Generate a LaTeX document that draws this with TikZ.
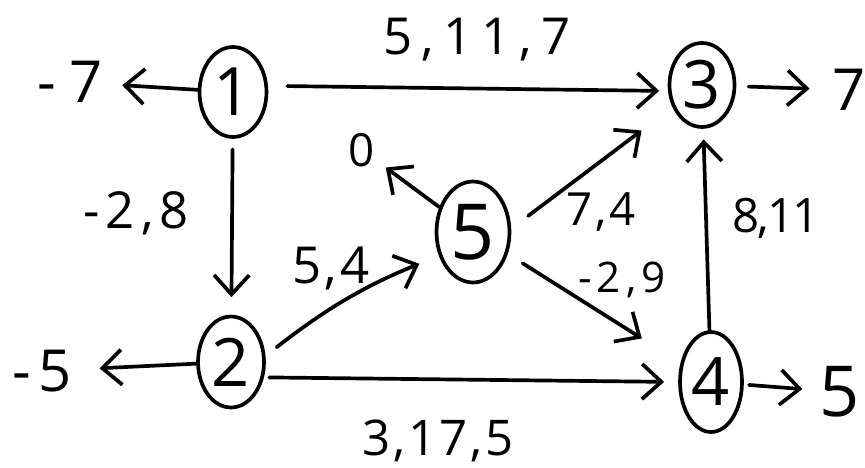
\documentclass[tikz,border=0pt]{standalone}
\usepackage{fontspec}
\setmainfont{Open Sans}
\newfontfamily\handA[LetterSpace=18]{Open Sans}
\newfontfamily\handB[LetterSpace=12]{Open Sans}
\newfontfamily\handC[LetterSpace=6]{Open Sans}
\newfontfamily\handD[LetterSpace=-4]{Open Sans}
\newfontfamily\handE[LetterSpace=24]{Open Sans}
\usetikzlibrary{arrows.meta,shapes.geometric}
\begin{document}
\begin{tikzpicture}[x=0.02cm,y=-0.02cm, line width=2.1pt,
  vtx/.style={ellipse, draw, inner sep=0pt, font=\fontsize{38}{40}\selectfont},
  lbl/.style={inner sep=1pt},
  arr/.style={-{Straight Barb[length=11pt,width=20pt]}, line cap=round}]
\fill[white] (0,0) rectangle (865,467);
\useasboundingbox (0,0) rectangle (865,467);

% vertices
\node[vtx, minimum width=1.34cm, minimum height=1.8cm] (n1) at (233,92) {1};
\node[vtx, minimum width=1.3cm, minimum height=1.68cm] (n3) at (702,85) {3};
\node[vtx, minimum width=1.46cm, minimum height=2.02cm, font=\fontsize{44}{46}\selectfont] (n5) at (473,232) {5};
\node[vtx, minimum width=1.32cm, minimum height=1.82cm] (n2) at (231,362) {2};
\node[vtx, minimum width=1.24cm, minimum height=2.0cm] (n4) at (711,382) {4};

% supplies / demands
\node[lbl, font=\handE\fontsize{33}{35}\selectfont] (s1) at (70,82) {-7};
\node[lbl, font=\fontsize{33}{35}\selectfont] (s3) at (849,90) {7};
\node[lbl, font=\fontsize{26}{28}\selectfont] (s5) at (362,150) {0};
\node[lbl, font=\handB\fontsize{33}{35}\selectfont] (s2) at (42,371) {-5};
\node[lbl, font=\fontsize{40}{42}\selectfont] (s4) at (840,392) {5};

% arcs
\draw[arr, shorten <=0pt, shorten >=9pt] (n1) -- (s1);
\draw[arr, shorten <=11pt, shorten >=5pt] (n1.10) -- (n3.190);
\draw[arr, shorten <=6pt, shorten >=10pt] (n1) -- (n2);
\draw[arr, shorten <=0pt, shorten >=14pt] (n2) -- (s2);
\draw[arr, shorten <=8pt, shorten >=12pt] (n2.10) to[bend left=8] (n5.215);
\draw[arr, shorten <=3pt, shorten >=8pt] (n2.-25) -- (n4.west);
\draw[arr, shorten <=0pt, shorten >=5pt] (n5) -- (s5);
\draw[arr, shorten <=12pt, shorten >=22pt] (n5.5) -- (n3);
\draw[arr, shorten <=10pt, shorten >=26pt] (n5) -- (n4);
\draw[arr, shorten <=0pt, shorten >=6pt] (n4) -- (n3);
\draw[arr, shorten <=7pt, shorten >=11pt] (n3) -- (s3);
\draw[arr, shorten <=3pt, shorten >=8pt] (n4) -- (s4);

% arc labels
\node[lbl, font=\handA\fontsize{29}{31}\selectfont] (l13) at (477,40) {5,11,7};
\node[lbl, font=\handB\fontsize{29}{31}\selectfont] (l12) at (136,213) {-2,8};
\node[lbl, font=\handC\fontsize{29}{31}\selectfont] (l25) at (331,268) {5,4};
\node[lbl, font=\handC\fontsize{26}{28}\selectfont] (l53) at (601,212) {7,4};
\node[lbl, font=\handB\fontsize{24}{26}\selectfont] (l54) at (622,280) {-2,9};
\node[lbl, font=\handD\fontsize{27}{29}\selectfont] (l43) at (776,218) {8,11};
\node[lbl, font=\handC\fontsize{28}{30}\selectfont] (l24) at (438,441) {3,17,5};
\end{tikzpicture}
\end{document}
